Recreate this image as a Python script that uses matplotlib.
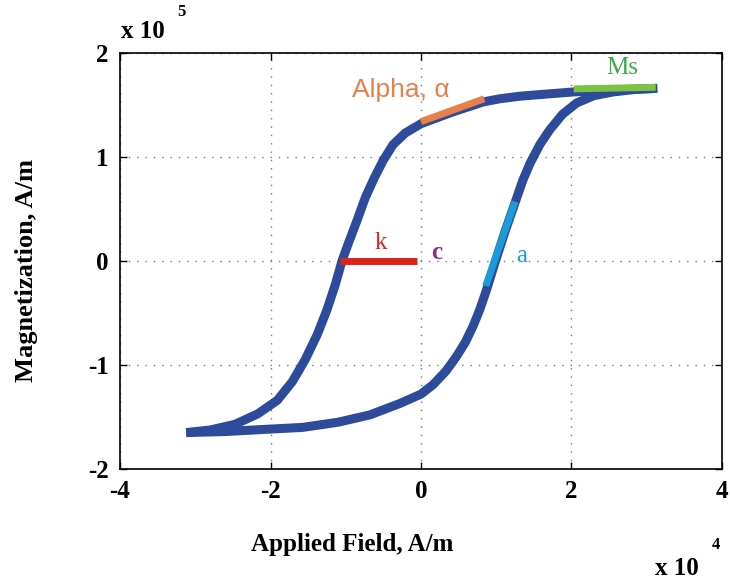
import matplotlib
matplotlib.use('Agg')
import matplotlib.pyplot as plt

# field in units of 1e4 A/m, magnetization in units of 1e5 A/m
h_down = [3.14, 2.55, 2.02, 1.58, 1.32, 1.05, 0.83, 0.41, 0.0, -0.21, -0.37,
          -0.50, -0.62, -0.74, -0.85, -0.96, -1.05, -1.14, -1.25, -1.38,
          -1.54, -1.71, -1.91, -2.17, -2.47, -2.80, -3.12]
m_down = [1.66, 1.645, 1.625, 1.60, 1.585, 1.56, 1.53, 1.43, 1.32, 1.23, 1.12,
          0.97, 0.80, 0.61, 0.39, 0.18, 0.0, -0.23, -0.47, -0.71,
          -0.95, -1.16, -1.34, -1.47, -1.57, -1.625, -1.65]

h_up = [-3.12, -2.60, -2.10, -1.57, -1.10, -0.68, -0.28, 0.0, 0.16, 0.33,
        0.47, 0.59, 0.69, 0.78, 0.87, 0.99, 1.12, 1.25, 1.35, 1.45, 1.58,
        1.71, 1.88, 2.07, 2.30, 2.55, 2.85, 3.14]
m_up = [-1.65, -1.64, -1.62, -1.60, -1.55, -1.48, -1.37, -1.28, -1.19, -1.06,
        -0.92, -0.78, -0.63, -0.47, -0.28, 0.0, 0.29, 0.56, 0.77, 0.94, 1.12,
        1.26, 1.41, 1.52, 1.59, 1.625, 1.65, 1.66]

# parameter markers: (h0, h1), (m0, m1)
alpha_seg = ([0.0, 0.84], [1.34, 1.56])
ms_seg = ([2.03, 3.12], [1.655, 1.67])
k_seg = ([-1.08, -0.05], [0.0, 0.0])
a_seg = ([0.86, 1.25], [-0.24, 0.57])

xticks = [-4, -2, 0, 2, 4]
yticks = [-2, -1, 0, 1, 2]

navy = '#2E4B9B'
serif = 'Liberation Serif'

fig = plt.figure(figsize=(7.30, 5.81), dpi=100)
ax = fig.add_axes([0.1644, 0.1928, 0.8246, 0.716])

ax.plot(h_down, m_down, color=navy, lw=6.5, solid_capstyle='butt', solid_joinstyle='round')
ax.plot(h_up, m_up, color=navy, lw=6.5, solid_capstyle='butt', solid_joinstyle='round')

ax.plot(*alpha_seg, color='#E8804A', lw=5, solid_capstyle='butt')
ax.plot(*ms_seg, color='#7DC242', lw=5, solid_capstyle='butt')
ax.plot(*k_seg, color='#DA251D', lw=5, solid_capstyle='butt')
ax.plot(*a_seg, color='#1B9CD8', lw=5, solid_capstyle='butt')

ax.text(-0.27, 1.64, 'Alpha, \u03b1', color='#E8804A', fontsize=19,
        family='Liberation Sans', ha='center', va='center')
ax.text(2.68, 1.86, 'Ms', color='#3DAA4A', fontsize=18, family=serif,
        ha='center', va='center')
ax.text(-0.53, 0.17, 'k', color='#DA251D', fontsize=18, family=serif,
        ha='center', va='center')
ax.text(0.21, 0.08, 'c', color='#8E2C8E', fontsize=18, family=serif,
        fontweight='bold', ha='center', va='center')
ax.text(1.34, 0.05, 'a', color='#1B9CD8', fontsize=18, family=serif,
        ha='center', va='center')

ax.set_xlim(-4, 4)
ax.set_ylim(-2, 2)
ax.set_xticks(xticks)
ax.set_yticks(yticks)
ax.set_xticklabels([str(t) for t in xticks])
ax.set_yticklabels([str(t) for t in yticks])
ax.tick_params(direction='in', length=5, width=1, top=True, right=True,
               labelsize=18, pad=8)
for lab in ax.get_xticklabels() + ax.get_yticklabels():
    lab.set_family(serif)
    lab.set_fontweight('bold')
for sp in ax.spines.values():
    sp.set_linewidth(1.2)
ax.grid(True, color='#777777', linestyle=(0, (1, 5)), lw=1)

fig.text(352 / 730, 1 - 545 / 581, 'Applied Field, A/m', family=serif,
         fontweight='bold', fontsize=18, ha='center', va='center')
fig.text(27 / 730, 1 - 271 / 581, 'Magnetization, A/m', family=serif,
         fontweight='bold', fontsize=19, ha='center', va='center', rotation=90)

# axis multipliers
fig.text(121 / 730, 1 - 38 / 581, 'x 10', family=serif, fontweight='bold',
         fontsize=18, ha='left', va='baseline')
fig.text(177 / 730, 1 - 16 / 581, '5', family=serif, fontweight='bold',
         fontsize=12, ha='left', va='baseline')
fig.text(655 / 730, 1 - 575 / 581, 'x 10', family=serif, fontweight='bold',
         fontsize=18, ha='left', va='baseline')
fig.text(712 / 730, 1 - 549 / 581, '4', family=serif, fontweight='bold',
         fontsize=12, ha='left', va='baseline')

fig.savefig('out.png', dpi=100)
